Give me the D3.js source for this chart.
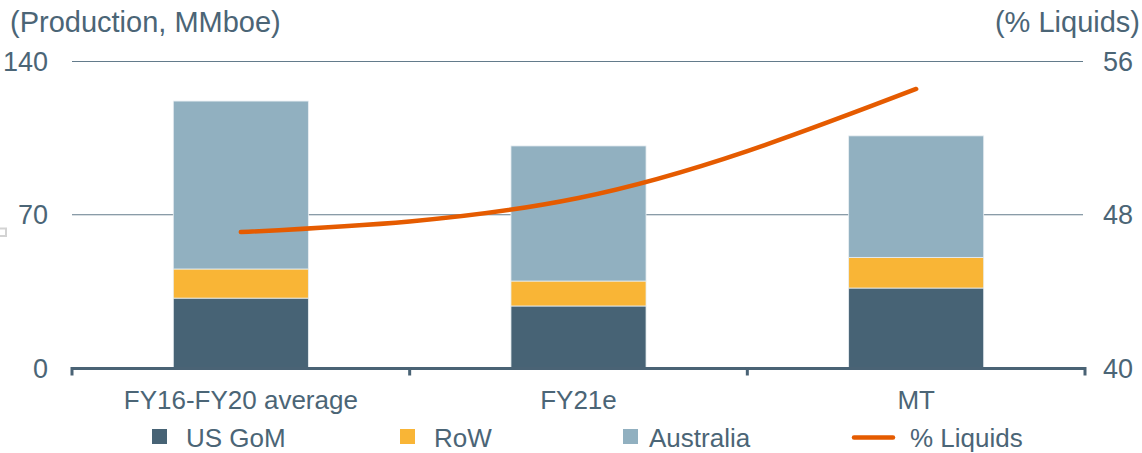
<!DOCTYPE html>
<html>
<head>
<meta charset="utf-8">
<script src="https://cdn.jsdelivr.net/npm/d3@7"></script>
<style>
  body { margin: 0; background: #fff; }
  svg { display: block; font-family: "Liberation Sans", Arial, sans-serif; }
</style>
</head>
<body>
<div id="chart"></div>
<script>
// data
var categories = ["FY16-FY20 average", "FY21e", "MT"];
var usGom = [31.7, 28.1, 36.3];
var row = [13.3, 11.4, 14.0];
var australia = [76.7, 61.7, 55.5];
var liquids = [47.07, 48.85, 54.54];
var leftTicks = [0, 70, 140];
var rightTicks = [40, 48, 56];
var seriesNames = ["US GoM", "RoW", "Australia", "% Liquids"];

var WIDTH = 1142, HEIGHT = 453;
var TEXT = "#4b6576";
var COLORS = ["#476375", "#f9b536", "#91b0c0"];
var LINE = "#e55b00";

var svg = d3.select("#chart").append("svg")
  .attr("width", WIDTH)
  .attr("height", HEIGHT);

var MARGINS = { left: 72, right: 1085, top: 61, bottom: 367.5 };

var x = d3.scaleBand().domain(categories).range([MARGINS.left, MARGINS.right]).padding(0);
var y = d3.scaleLinear().domain([0, 140]).range([MARGINS.bottom, MARGINS.top]);
var y2 = d3.scaleLinear().domain([40, 56]).range([MARGINS.bottom, MARGINS.top]);
var barW = x.bandwidth() * 0.4;

// little gray handle at the left edge
svg.append("rect")
  .attr("x", -1).attr("y", 228.5).attr("width", 7).attr("height", 7.5)
  .attr("fill", "#fff").attr("stroke", "#d3d3d3").attr("stroke-width", 2);

// left axis with gridlines
var yAxis = d3.axisLeft(y)
  .tickValues(leftTicks)
  .tickSize(-(MARGINS.right - MARGINS.left - 2))
  .tickPadding(24)
  .tickFormat(d3.format("d"));

var gy = svg.append("g")
  .attr("transform", "translate(" + MARGINS.left + ",0)")
  .call(yAxis);
gy.select(".domain").remove();
gy.selectAll("line").attr("stroke", "#637b8b").attr("stroke-width", 1.2);
gy.selectAll("text")
  .attr("fill", TEXT)
  .attr("dy", "0.36em")
  .style("font-size", "27px")
  .style("font-family", "'Liberation Sans', Arial, sans-serif");

// right axis labels
var yAxis2 = d3.axisRight(y2).tickValues(rightTicks).tickSize(0).tickPadding(18);
var gy2 = svg.append("g")
  .attr("transform", "translate(" + MARGINS.right + ",0)")
  .call(yAxis2);
gy2.select(".domain").remove();
gy2.selectAll("text")
  .attr("fill", TEXT)
  .attr("dy", "0.36em")
  .style("font-size", "27px")
  .style("font-family", "'Liberation Sans', Arial, sans-serif");

// stacked bars
var tableRows = categories.map(function (c, i) {
  return { cat: c, gom: usGom[i], row: row[i], aus: australia[i] };
});
var stack = d3.stack().keys(["gom", "row", "aus"]);
var layers = stack(tableRows);

svg.append("g").selectAll("g")
  .data(layers)
  .join("g")
  .attr("fill", function (d, i) { return COLORS[i]; })
  .selectAll("rect")
  .data(function (d) { return d; })
  .join("rect")
  .attr("x", function (d) { return x(d.data.cat) + (x.bandwidth() - barW) / 2; })
  .attr("y", function (d) { return y(d[1]); })
  .attr("width", barW)
  .attr("height", function (d) { return y(d[0]) - y(d[1]); })
  .attr("stroke", "#e8eef2")
  .attr("stroke-width", 0.8);

// bottom axis
var bounds = categories.map(function (c) { return x(c); }).concat([MARGINS.right]);
var axisY = MARGINS.bottom + 1;
svg.append("line")
  .attr("x1", MARGINS.left).attr("x2", MARGINS.right)
  .attr("y1", axisY).attr("y2", axisY)
  .attr("stroke", "#4a6375").attr("stroke-width", 3);
svg.append("g").selectAll("line")
  .data(bounds)
  .join("line")
  .attr("x1", function (d) { return d; })
  .attr("x2", function (d) { return d; })
  .attr("y1", axisY - 1.5)
  .attr("y2", axisY + 7)
  .attr("stroke", "#4a6375").attr("stroke-width", 3);

svg.append("g").selectAll("text")
  .data(categories)
  .join("text")
  .attr("x", function (d) { return x(d) + x.bandwidth() / 2; })
  .attr("y", 409)
  .attr("text-anchor", "middle")
  .attr("fill", TEXT)
  .style("font-size", "26px")
  .text(function (d) { return d; });

// % liquids line
var lineFunc = d3.line()
  .x(function (d, i) { return x(categories[i]) + x.bandwidth() / 2; })
  .y(function (d) { return y2(d); })
  .curve(d3.curveMonotoneX);

svg.append("path")
  .attr("d", lineFunc(liquids))
  .attr("stroke", LINE)
  .attr("stroke-width", 4.5)
  .attr("stroke-linecap", "round")
  .attr("fill", "none");

// axis titles
svg.append("text")
  .attr("x", 10).attr("y", 32)
  .attr("fill", TEXT)
  .style("font-size", "29px")
  .text("(Production, MMboe)");
svg.append("text")
  .attr("x", 1140).attr("y", 32)
  .attr("text-anchor", "end")
  .attr("fill", TEXT)
  .style("font-size", "29px")
  .text("(% Liquids)");

// legend
var legendX = [152, 400, 623, 853];
var legend = svg.append("g").selectAll("g")
  .data(seriesNames)
  .join("g")
  .attr("transform", function (d, i) { return "translate(" + legendX[i] + ",0)"; });

legend.filter(function (d, i) { return i < 3; })
  .append("rect")
  .attr("x", 0).attr("y", 429)
  .attr("width", 15).attr("height", 15)
  .attr("fill", function (d, i) { return COLORS[i]; });

legend.filter(function (d, i) { return i === 3; })
  .append("line")
  .attr("x1", 1).attr("x2", 40)
  .attr("y1", 437.5).attr("y2", 437.5)
  .attr("stroke", LINE).attr("stroke-width", 4.5)
  .attr("stroke-linecap", "round");

legend.append("text")
  .attr("x", function (d, i) { return i < 3 ? (i === 2 ? 26 : 34) : 57; })
  .attr("y", 447)
  .attr("fill", TEXT)
  .style("font-size", "26px")
  .text(function (d) { return d; });
</script>
</body>
</html>
